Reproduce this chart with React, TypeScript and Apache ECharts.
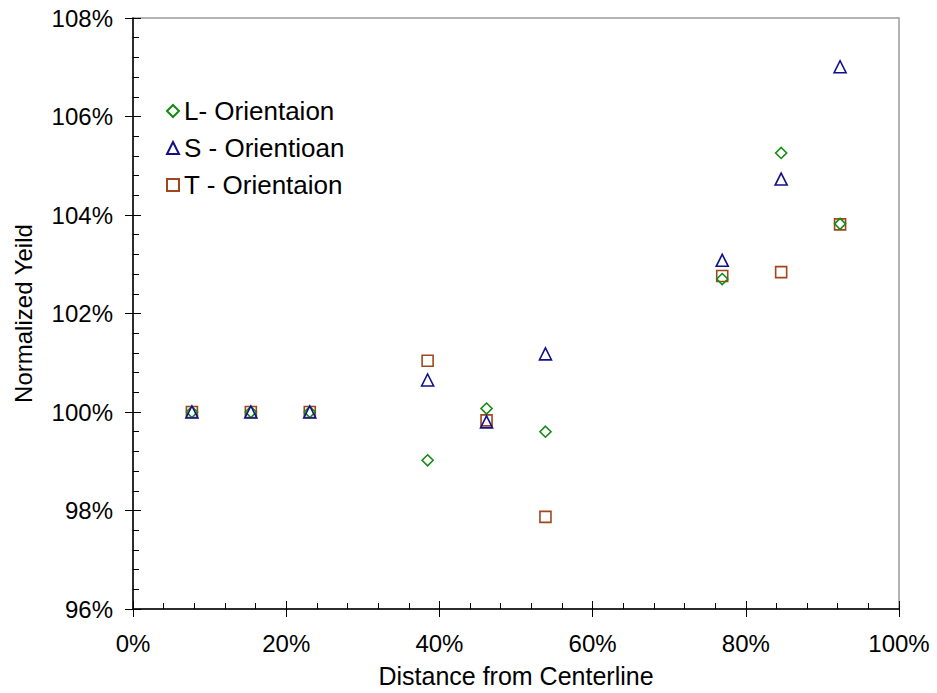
import React, { useEffect, useRef } from "react";
import * as echarts from "echarts";

const xValues = [7.692, 15.385, 23.077, 38.462, 46.154, 53.846, 76.923, 84.615, 92.308];
const lValues = [100, 100, 100, 99.02, 100.07, 99.6, 102.7, 105.26, 103.82];
const sValues = [100, 100, 100, 100.65, 99.8, 101.18, 103.08, 104.73, 107.01];
const tValues = [100, 100, 100, 101.04, 99.83, 97.87, 102.76, 102.84, 103.81];
const seriesNames = ["L- Orientaion", "S - Orientioan", "T - Orientaion"];
const xTitle = "Distance from Centerline";
const yTitle = "Normalized Yeild";

const FONT = "Liberation Sans, Arial, sans-serif";

export default function App() {
  const ref = useRef<HTMLDivElement>(null);
  useEffect(() => {
    if (!ref.current) return;
    const chart = echarts.init(ref.current, undefined, { renderer: "svg" });
    const pairs = (ys: number[]) => xValues.map((x, i) => [x, ys[i]]);
    const mk = (name: string, ys: number[], symbol: string, size: number, color: string) => ({
      name,
      type: "scatter",
      xAxisIndex: 0,
      yAxisIndex: 0,
      data: pairs(ys),
      symbol,
      symbolSize: size,
      itemStyle: { color: "rgba(255,255,255,0)", borderColor: color, borderWidth: 1.6, opacity: 1 },
      emphasis: { disabled: true },
    });
    const xCommon = { type: "value", min: 0, max: 100, interval: 20, position: "bottom" };
    const yCommon = { type: "value", min: 96, max: 108, interval: 2, position: "left" };
    chart.setOption({
      animation: false,
      textStyle: { fontFamily: FONT },
      grid: {
        left: 133,
        right: 38,
        top: 18,
        bottom: 77,
        show: true,
        borderColor: "#9a9a9a",
        borderWidth: 1.5,
        backgroundColor: "transparent",
      },
      legend: {
        orient: "vertical",
        left: 166,
        top: 98,
        padding: 0,
        itemGap: 11,
        itemWidth: 12,
        itemHeight: 12,
        itemTextGap: 7,
        data: seriesNames,
        textStyle: { fontSize: 26, color: "#000", fontFamily: FONT },
      },
      xAxis: [
        {
          ...xCommon,
          name: xTitle,
          nameLocation: "middle",
          nameGap: 54,
          nameTextStyle: { fontSize: 25, color: "#000", fontFamily: FONT },
          axisLine: { show: true, lineStyle: { color: "#000", width: 1.5 } },
          axisTick: { show: true, inside: true, length: 8, lineStyle: { color: "#000", width: 1 } },
          minorTick: { show: true, splitNumber: 5, length: 6, lineStyle: { color: "#000", width: 1 } },
          axisLabel: { fontSize: 24, color: "#000", margin: 22, formatter: "{value}%", fontFamily: FONT },
          splitLine: { show: false },
        },
        {
          ...xCommon,
          axisLine: { show: false },
          axisTick: { show: true, inside: false, length: 8, lineStyle: { color: "#000", width: 1 } },
          axisLabel: { show: false },
          splitLine: { show: false },
        },
      ],
      yAxis: [
        {
          ...yCommon,
          name: yTitle,
          nameLocation: "middle",
          nameGap: 98,
          nameTextStyle: { fontSize: 24, color: "#000", fontFamily: FONT },
          axisLine: { show: true, lineStyle: { color: "#000", width: 1.5 } },
          axisTick: { show: true, inside: true, length: 8, lineStyle: { color: "#000", width: 1 } },
          minorTick: { show: true, splitNumber: 5, length: 6, lineStyle: { color: "#000", width: 1 } },
          axisLabel: { fontSize: 24, color: "#000", margin: 20, formatter: "{value}%", fontFamily: FONT },
          splitLine: { show: false },
        },
        {
          ...yCommon,
          axisLine: { show: false },
          axisTick: { show: true, inside: false, length: 8, lineStyle: { color: "#000", width: 1 } },
          axisLabel: { show: false },
          splitLine: { show: false },
        },
      ],
      series: [
        mk(seriesNames[2], tValues, "rect", 11, "#A0461E"),
        mk(seriesNames[0], lValues, "diamond", 11, "#138A13"),
        mk(seriesNames[1], sValues, "triangle", 12, "#10108A"),
      ],
    });
    return () => chart.dispose();
  }, []);
  return <div ref={ref} style={{ width: 937, height: 693, position: "absolute", left: 0, top: 0 }} />;
}
